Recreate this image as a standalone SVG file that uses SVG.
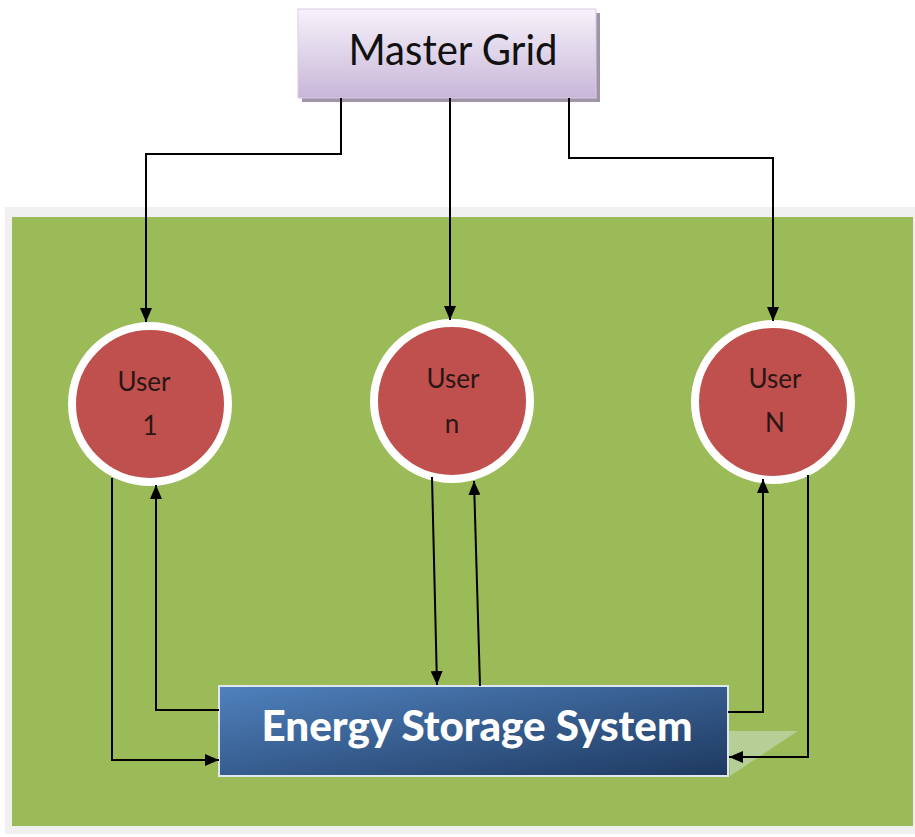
<svg xmlns="http://www.w3.org/2000/svg" width="915" height="837" viewBox="0 0 915 837">
<defs>
<style>
.conn{fill:none;stroke:#000;stroke-width:2}
.ring{fill:#c0504d;stroke:#ffffff;stroke-width:8}
.shadow{fill:#7d6a3c;opacity:0.6}
.ulabel{font-family:Lato,"Noto Sans",sans-serif;font-size:26px;fill:#2b1616;text-anchor:middle}
</style>
<linearGradient id="mg" x1="0" y1="0" x2="0" y2="1">
<stop offset="0" stop-color="#f6f2fa"/>
<stop offset="1" stop-color="#c8b6d8"/>
</linearGradient>
<linearGradient id="ess" x1="0" y1="0" x2="1" y2="1">
<stop offset="0" stop-color="#4f81bd"/>
<stop offset="1" stop-color="#1e3960"/>
</linearGradient>
<marker id="ah" viewBox="0 0 14 12" refX="14" refY="6" markerWidth="14" markerHeight="12" markerUnits="userSpaceOnUse" orient="auto">
<path d="M0,0 L14,6 L0,12 z" fill="#000"/>
</marker>
</defs>
<rect x="0" y="0" width="915" height="837" fill="#ffffff"/>
<rect x="5" y="207" width="915" height="627" fill="#f0f0f0"/>
<rect x="12" y="217" width="901" height="609" fill="#9bbb59"/>
<g id="master-grid">
<rect x="302" y="13" width="298" height="89" fill="#a095a8"/>
<rect x="298" y="9" width="298" height="89" fill="url(#mg)" stroke="#d8cce4" stroke-width="1"/>
<text x="453" y="65" font-family="Lato,'Noto Sans',sans-serif" font-size="43" fill="#111" text-anchor="middle" textLength="209" lengthAdjust="spacingAndGlyphs">Master Grid</text>
</g>
<g id="user-1">
<circle cx="152" cy="406" r="79" class="shadow"/>
<circle cx="150" cy="404" r="78" class="ring"/>
<text x="144" y="391" class="ulabel">User</text>
<text x="150" y="435" class="ulabel">1</text>
</g>
<g id="user-n">
<circle cx="454" cy="403" r="79" class="shadow"/>
<circle cx="452" cy="401" r="78" class="ring"/>
<text x="453" y="388" class="ulabel">User</text>
<text x="452" y="433" class="ulabel">n</text>
</g>
<g id="user-N">
<circle cx="775" cy="404" r="79" class="shadow"/>
<circle cx="773" cy="402" r="78" class="ring"/>
<text x="775" y="388" class="ulabel">User</text>
<text x="775" y="432" class="ulabel">N</text>
</g>
<polygon points="728,731 798,731 730,776" fill="#c8dcc0" opacity="0.6"/>
<g id="energy-storage-system">
<rect x="219" y="686" width="509" height="90" fill="url(#ess)" stroke="#dfe8f2" stroke-width="2"/>
<text x="477" y="741" font-family="Lato,'Noto Sans',sans-serif" font-size="42" font-weight="900" fill="#ffffff" text-anchor="middle" textLength="431" lengthAdjust="spacingAndGlyphs">Energy Storage System</text>
</g>
<g id="connectors">
<polyline class="conn" points="341,98 341,154 146,154 146,322" marker-end="url(#ah)"/>
<polyline class="conn" points="450,98 450,320" marker-end="url(#ah)"/>
<polyline class="conn" points="569,98 569,158 773,158 773,321" marker-end="url(#ah)"/>
<polyline class="conn" points="112,478 112,760 219,760" marker-end="url(#ah)"/>
<polyline class="conn" points="219,710 156,710 156,485" marker-end="url(#ah)"/>
<polyline class="conn" points="432,477 437,685" marker-end="url(#ah)"/>
<polyline class="conn" points="480,686 474,481" marker-end="url(#ah)"/>
<polyline class="conn" points="728,712 763,712 763,479" marker-end="url(#ah)"/>
<polyline class="conn" points="808,475 808,757 729,757" marker-end="url(#ah)"/>
</g>
</svg>
